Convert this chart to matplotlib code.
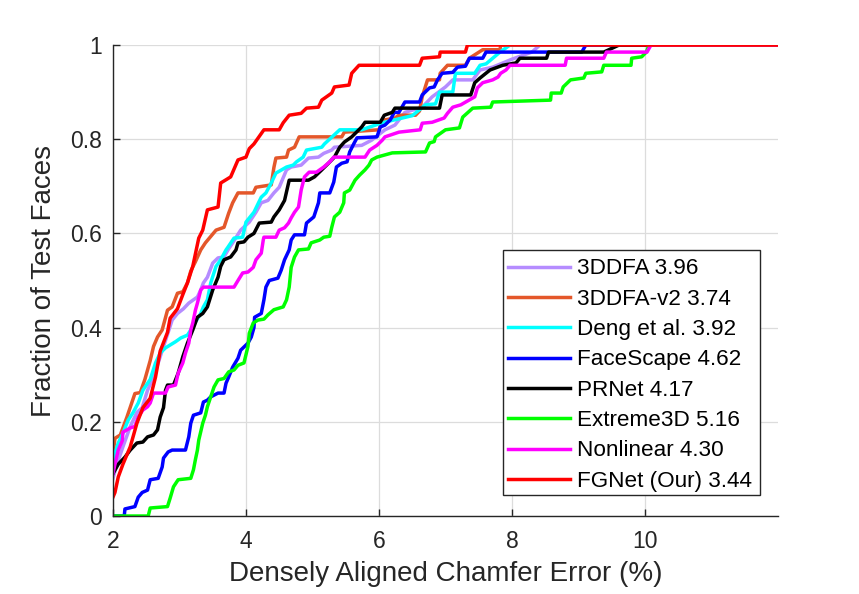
import matplotlib
matplotlib.use("Agg")
import matplotlib.pyplot as plt
from matplotlib.patches import Rectangle

plt.rcParams['font.family'] = ['Liberation Sans', 'DejaVu Sans']

labels = ["3DDFA 3.96", "3DDFA-v2 3.74", "Deng et al. 3.92", "FaceScape 4.62",
          "PRNet 4.17", "Extreme3D 5.16", "Nonlinear 4.30", "FGNet (Our) 3.44"]
colors = ["#B58CFF", "#E4572A", "#00FFFF", "#0000FF",
          "#000000", "#00FF00", "#FF00FF", "#FF0000"]

ddfa_x = [2.0, 2.06, 2.15, 2.26, 2.36, 2.44, 2.52, 2.61, 2.68, 2.76, 2.83, 2.89, 2.97, 3.06, 3.14,
          3.27, 3.32, 3.36, 3.42, 3.50, 3.58, 3.67, 3.73, 3.80, 3.92, 4.05, 4.15, 4.23, 4.33, 4.42,
          4.50, 4.61, 4.68, 4.83, 4.94, 5.09, 5.17, 5.29, 5.33, 5.74, 5.89, 6.09, 6.24, 6.39, 6.65,
          6.80, 7.0, 7.11, 7.41, 7.52, 7.71, 8.0, 8.3, 8.42, 12.0]
ddfa_y = [0.08, 0.11, 0.147, 0.19, 0.22, 0.23, 0.267, 0.295, 0.325, 0.36, 0.39, 0.416, 0.43, 0.44, 0.452,
          0.465, 0.48, 0.495, 0.507, 0.537, 0.548, 0.55, 0.565, 0.58, 0.607, 0.624, 0.645, 0.665, 0.67, 0.686,
          0.698, 0.735, 0.741, 0.745, 0.76, 0.762, 0.77, 0.777, 0.783, 0.787, 0.798, 0.82, 0.83, 0.857, 0.868,
          0.89, 0.911, 0.926, 0.926, 0.947, 0.953, 0.97, 0.985, 1.0, 1.0]

ddfav2_x = [2.0, 2.03, 2.11, 2.21, 2.33, 2.41, 2.48, 2.56, 2.61, 2.67, 2.74, 2.82, 2.89, 2.97, 3.05,
            3.12, 3.17, 3.24, 3.32, 3.39, 3.55, 3.67, 3.74, 3.80, 3.88, 4.11, 4.15, 4.38, 4.42, 4.45,
            4.61, 4.64, 4.73, 4.80, 5.44, 5.48, 6.0, 6.05, 6.24, 6.30, 6.55, 6.61, 6.65, 6.73, 6.91,
            6.92, 7.03, 7.30, 7.36, 7.56, 7.82, 7.83, 12.0]
ddfav2_y = [0.13, 0.165, 0.172, 0.21, 0.26, 0.262, 0.29, 0.33, 0.36, 0.38, 0.395, 0.437, 0.444, 0.473, 0.476,
            0.495, 0.52, 0.54, 0.565, 0.58, 0.607, 0.613, 0.643, 0.665, 0.686, 0.686, 0.698, 0.703, 0.74, 0.76,
            0.762, 0.777, 0.783, 0.805, 0.805, 0.815, 0.82, 0.84, 0.845, 0.851, 0.851, 0.86, 0.89, 0.926, 0.926,
            0.94, 0.957, 0.957, 0.972, 0.99, 0.99, 1.0, 1.0]

deng_x = [2.0, 2.03, 2.08, 2.15, 2.23, 2.30, 2.38, 2.45, 2.56, 2.64, 2.71, 2.79, 2.94, 3.02, 3.12,
          3.17, 3.24, 3.32, 3.36, 3.42, 3.47, 3.55, 3.62, 3.70, 3.73, 3.82, 3.95, 4.0, 4.12, 4.23,
          4.30, 4.38, 4.45, 4.61, 4.71, 4.76, 4.86, 4.91, 5.14, 5.18, 5.41, 5.74, 6.05, 6.5, 6.70,
          6.85, 6.91, 7.11, 7.15, 7.44, 7.52, 7.61, 7.82, 7.97, 12.0]
deng_y = [0.11, 0.133, 0.155, 0.176, 0.204, 0.219, 0.24, 0.267, 0.29, 0.325, 0.346, 0.357, 0.37, 0.378, 0.384,
          0.395, 0.412, 0.43, 0.444, 0.459, 0.495, 0.53, 0.544, 0.565, 0.571, 0.59, 0.592, 0.624, 0.645, 0.677,
          0.686, 0.707, 0.728, 0.741, 0.745, 0.752, 0.762, 0.777, 0.783, 0.79, 0.82, 0.82, 0.835, 0.85, 0.873,
          0.875, 0.9, 0.9, 0.94, 0.94, 0.957, 0.96, 0.985, 1.0, 1.0]

facescape_x = [2.0, 2.17, 2.18, 2.33, 2.38, 2.44, 2.52, 2.56, 2.68, 2.74, 2.76, 2.83, 2.89, 3.09, 3.14,
               3.17, 3.21, 3.32, 3.36, 3.42, 3.47, 3.58, 3.67, 3.70, 3.74, 3.80, 3.88, 3.92, 4.03, 4.08,
               4.12, 4.13, 4.23, 4.27, 4.30, 4.35, 4.48, 4.53, 4.58, 4.65, 4.68, 4.73, 4.88, 4.91, 5.02,
               5.09, 5.11, 5.26, 5.32, 5.36, 5.44, 5.52, 5.56, 5.62, 5.67, 5.97, 6.02, 6.09, 6.17, 6.23,
               6.30, 6.39, 6.61, 6.65, 6.76, 6.83, 6.88, 6.95, 7.11, 7.18, 7.30, 7.36, 7.56, 7.61, 9.05,
               9.11, 12.0]
facescape_y = [0.0, 0.0, 0.015, 0.02, 0.04, 0.05, 0.055, 0.077, 0.08, 0.104, 0.123, 0.136, 0.14, 0.14, 0.168,
               0.197, 0.214, 0.219, 0.242, 0.246, 0.253, 0.261, 0.261, 0.282, 0.295, 0.316, 0.335, 0.352, 0.367, 0.38,
               0.4, 0.422, 0.43, 0.459, 0.486, 0.5, 0.505, 0.522, 0.544, 0.565, 0.586, 0.597, 0.597, 0.622, 0.635,
               0.665, 0.686, 0.686, 0.709, 0.741, 0.749, 0.752, 0.773, 0.79, 0.803, 0.805, 0.826, 0.83, 0.841, 0.857,
               0.857, 0.879, 0.879, 0.894, 0.909, 0.911, 0.926, 0.94, 0.942, 0.953, 0.955, 0.972, 0.972, 0.985, 0.985,
               1.0, 1.0]

prnet_x = [2.0, 2.08, 2.18, 2.26, 2.36, 2.45, 2.52, 2.61, 2.67, 2.71, 2.76, 2.79, 2.82, 2.91, 2.98,
           3.05, 3.12, 3.20, 3.27, 3.35, 3.42, 3.50, 3.58, 3.62, 3.67, 3.77, 3.85, 3.88, 3.97, 4.03,
           4.12, 4.20, 4.38, 4.42, 4.50, 4.58, 4.65, 4.94, 5.03, 5.14, 5.24, 5.33, 5.41, 5.48, 5.59,
           5.74, 5.79, 6.02, 6.08, 6.20, 6.24, 6.91, 6.95, 7.38, 7.44, 7.52, 7.67, 7.86, 8.06, 8.12,
           8.52, 8.55, 9.38, 9.61, 12.0]
prnet_y = [0.09, 0.11, 0.125, 0.14, 0.155, 0.157, 0.168, 0.172, 0.183, 0.21, 0.23, 0.267, 0.278, 0.278, 0.303,
           0.338, 0.367, 0.395, 0.422, 0.43, 0.444, 0.48, 0.507, 0.53, 0.544, 0.55, 0.565, 0.58, 0.582, 0.592,
           0.6, 0.622, 0.624, 0.635, 0.65, 0.67, 0.713, 0.713, 0.72, 0.735, 0.749, 0.762, 0.783, 0.794, 0.805,
           0.826, 0.836, 0.836, 0.851, 0.857, 0.866, 0.866, 0.894, 0.894, 0.92, 0.93, 0.947, 0.957, 0.962, 0.972,
           0.972, 0.985, 0.985, 1.0, 1.0]

extreme_x = [2.0, 2.53, 2.56, 2.82, 2.86, 2.91, 2.98, 3.17, 3.21, 3.24, 3.27, 3.29, 3.35, 3.39, 3.42,
             3.47, 3.52, 3.58, 3.67, 3.74, 3.82, 3.88, 3.97, 4.03, 4.05, 4.11, 4.18, 4.27, 4.33, 4.42,
             4.56, 4.61, 4.65, 4.68, 4.73, 4.79, 4.94, 4.98, 5.11, 5.17, 5.26, 5.29, 5.33, 5.41, 5.47,
             5.48, 5.56, 5.64, 5.71, 5.79, 5.85, 5.89, 5.97, 6.20, 6.70, 6.76, 6.83, 6.85, 7.0, 7.21,
             7.26, 7.41, 7.68, 7.71, 8.58, 8.59, 8.74, 8.77, 8.88, 9.08, 9.11, 9.35, 9.38, 9.79, 9.80,
             9.95, 10.02, 10.06, 12.0]
extreme_y = [0.0, 0.0, 0.017, 0.02, 0.038, 0.062, 0.077, 0.08, 0.098, 0.12, 0.14, 0.161, 0.197, 0.214, 0.232,
             0.253, 0.274, 0.289, 0.292, 0.306, 0.31, 0.32, 0.325, 0.36, 0.388, 0.41, 0.416, 0.418, 0.427, 0.438,
             0.444, 0.459, 0.486, 0.528, 0.55, 0.565, 0.567, 0.58, 0.586, 0.592, 0.594, 0.613, 0.635, 0.645, 0.665,
             0.686, 0.692, 0.713, 0.724, 0.735, 0.745, 0.756, 0.762, 0.771, 0.773, 0.792, 0.795, 0.805, 0.82, 0.824,
             0.847, 0.866, 0.868, 0.879, 0.883, 0.898, 0.898, 0.911, 0.926, 0.93, 0.94, 0.943, 0.957, 0.957, 0.972,
             0.975, 0.985, 1.0, 1.0]

nonlin_x = [2.0, 2.03, 2.08, 2.14, 2.15, 2.26, 2.33, 2.38, 2.45, 2.52, 2.56, 2.61, 2.79, 2.83, 2.94,
            2.98, 3.05, 3.09, 3.14, 3.17, 3.20, 3.24, 3.27, 3.32, 3.36, 3.82, 3.88, 3.95, 4.03, 4.11,
            4.15, 4.23, 4.26, 4.27, 4.45, 4.50, 4.58, 4.64, 4.68, 4.73, 4.79, 4.83, 4.88, 4.95, 5.06,
            5.17, 5.26, 5.32, 5.79, 5.86, 5.97, 6.05, 6.09, 6.30, 6.62, 6.65, 6.80, 6.98, 7.03, 7.11,
            7.23, 7.44, 7.48, 7.56, 7.71, 7.79, 7.83, 7.91, 7.97, 8.80, 8.82, 9.38, 9.42, 10.03, 10.09,
            12.0]
nonlin_y = [0.09, 0.11, 0.14, 0.16, 0.178, 0.187, 0.19, 0.21, 0.225, 0.232, 0.24, 0.261, 0.261, 0.274, 0.278,
            0.303, 0.325, 0.346, 0.367, 0.395, 0.41, 0.437, 0.452, 0.48, 0.486, 0.486, 0.5, 0.516, 0.518, 0.528,
            0.544, 0.558, 0.586, 0.592, 0.592, 0.607, 0.612, 0.622, 0.633, 0.645, 0.656, 0.692, 0.72, 0.73, 0.73,
            0.741, 0.752, 0.762, 0.762, 0.777, 0.787, 0.798, 0.805, 0.815, 0.82, 0.834, 0.836, 0.845, 0.855, 0.868,
            0.873, 0.89, 0.909, 0.92, 0.926, 0.932, 0.94, 0.947, 0.957, 0.957, 0.972, 0.972, 0.985, 0.985, 1.0,
            1.0]

fgnet_x = [2.0, 2.03, 2.08, 2.15, 2.26, 2.36, 2.45, 2.56, 2.64, 2.71, 2.82, 2.86, 2.97, 3.05, 3.12,
           3.20, 3.29, 3.35, 3.42, 3.58, 3.62, 3.77, 3.88, 4.0, 4.05, 4.12, 4.27, 4.5, 4.56, 4.65,
           4.83, 4.91, 5.09, 5.14, 5.29, 5.33, 5.55, 5.59, 5.70, 6.61, 6.65, 6.91, 6.92, 7.30, 7.33,
           12.0]
fgnet_y = [0.04, 0.05, 0.083, 0.11, 0.147, 0.197, 0.23, 0.25, 0.295, 0.35, 0.39, 0.42, 0.44, 0.47, 0.495,
           0.53, 0.59, 0.607, 0.65, 0.656, 0.707, 0.72, 0.756, 0.762, 0.78, 0.79, 0.82, 0.82, 0.835, 0.851,
           0.855, 0.866, 0.868, 0.883, 0.898, 0.911, 0.915, 0.94, 0.957, 0.957, 0.972, 0.975, 0.985, 0.985, 1.0,
           1.0]

series_x = [ddfa_x, ddfav2_x, deng_x, facescape_x, prnet_x, extreme_x, nonlin_x, fgnet_x]
series_y = [ddfa_y, ddfav2_y, deng_y, facescape_y, prnet_y, extreme_y, nonlin_y, fgnet_y]

x_ticks = [2, 4, 6, 8, 10]
y_ticks = [0, 0.2, 0.4, 0.6, 0.8, 1.0]
y_tick_labels = ["0", "0.2", "0.4", "0.6", "0.8", "1"]

txt = "#262626"
fig = plt.figure(figsize=(8.59, 5.94), dpi=100)
ax = fig.add_axes([0.1315, 0.1313, 0.7742, 0.7929])

for xs, ys, c, lab in zip(series_x, series_y, colors, labels):
    ax.plot(xs, ys, color=c, lw=2.5, label=lab)

ax.set_xlim(2, 12)
ax.set_ylim(0, 1)
ax.set_xticks(x_ticks)
ax.set_yticks(y_ticks)
ax.set_yticklabels(y_tick_labels)
ax.grid(True, color="#DCDCDC", lw=0.9)
ax.set_axisbelow(True)
for s in ["top", "right"]:
    ax.spines[s].set_visible(False)
for s in ["left", "bottom"]:
    ax.spines[s].set_color(txt)
    ax.spines[s].set_linewidth(1.0)
ax.tick_params(direction='in', length=5, width=1.0, colors=txt, labelsize=16.5)
ax.tick_params(axis='x', pad=10)
ax.tick_params(axis='y', pad=8)

ax.set_xlabel("Densely Aligned Chamfer Error (%)", fontsize=20, color=txt, labelpad=6)
ax.set_ylabel("Fraction of Test Faces", fontsize=20, color=txt, labelpad=9)

# legend frame drawn in axes coordinates
ax.add_patch(Rectangle((0.586, 0.0446), 0.387, 0.5204, transform=ax.transAxes,
                       facecolor="white", edgecolor=txt, lw=1.0, zorder=5))
leg = ax.legend(loc='upper left', bbox_to_anchor=(0.594, 0.547), borderaxespad=0,
                fontsize=16.2, handlelength=2.75, handletextpad=0.3, labelspacing=0.415,
                borderpad=0.0, frameon=False)
leg.set_zorder(6)
for t in leg.get_texts():
    t.set_color("#000000")

fig.savefig("out.png", dpi=100)
